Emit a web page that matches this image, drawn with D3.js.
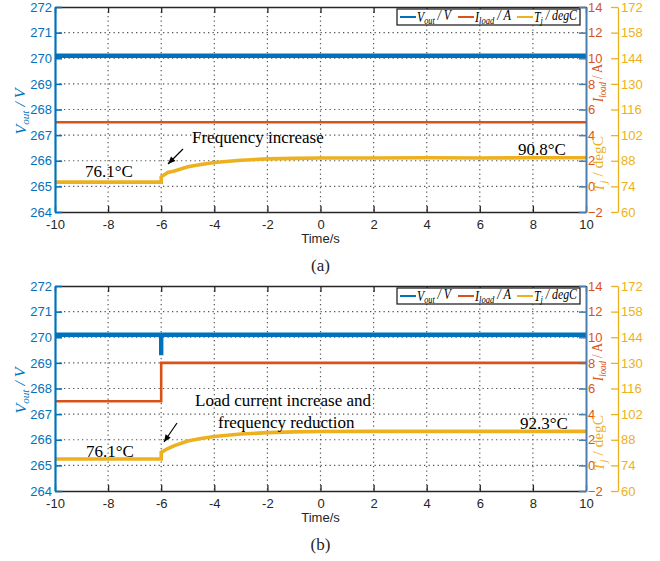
<!DOCTYPE html>
<html>
<head>
<meta charset="utf-8">
<script src="https://cdn.jsdelivr.net/npm/d3@7"></script>
<style>
  body { margin: 0; background: #fff; }
  svg { display: block; }
  .serif { font-family: "Liberation Serif", "Times New Roman", serif; }
  .sans { font-family: "Liberation Sans", Arial, sans-serif; }
</style>
</head>
<body>
<svg id="chart" width="660" height="561"></svg>
<script>
'use strict';

// axis ticks
var timeTicks = [-10, -8, -6, -4, -2, 0, 2, 4, 6, 8, 10];
var voutTicks = [264, 265, 266, 267, 268, 269, 270, 271, 272];
var iloadTicks = [-2, 0, 2, 4, 6, 8, 10, 12, 14];
var tjTicks = [60, 74, 88, 102, 116, 130, 144, 158, 172];

// panel (a)
var voutTimeA = [-10, 10];
var voutA = [270.1, 270.1];
var iloadTimeA = [-10, 10];
var iloadA = [5.0, 5.0];
var tjTimeA = [-10, -6, -6, -5.75, -5.5, -5, -4.5, -4, -3, -2, -1, 0, 2, 4, 6, 8, 10];
var tjA = [76.3, 76.3, 79.2, 81.6, 82.4, 84.7, 86.0, 87.0, 88.3, 89.0, 89.3, 89.5, 89.5, 89.6, 89.5, 89.6, 89.6];

// panel (b)
var voutTimeB = [-10, -6, -6, -6, 10];
var voutB = [270.1, 270.1, 269.3, 270.1, 270.1];
var iloadTimeB = [-10, -6, -6, 10];
var iloadB = [5.0, 5.0, 8.0, 8.0];
var tjTimeB = [-10, -6, -6, -5.75, -5.5, -5, -4.5, -4, -3, -2, -1, 0, 2, 4, 6, 8, 10];
var tjB = [77.5, 77.5, 81.1, 83.2, 84.8, 87.3, 88.7, 89.8, 91.1, 91.9, 92.3, 92.5, 92.6, 92.6, 92.6, 92.6, 92.6];

var BLUE = '#0072BD';
var ORANGE = '#D95319';
var YELLOW = '#EDB120';
var DARK = '#262626';

var svg = d3.select('#chart');
svg.append('rect').attr('width', 660).attr('height', 561).attr('fill', '#fff');

var left = 55, right = 586, axis3 = 618;
var panelH = 205;

function zip(xs, ys) {
    return xs.map(function(x, i) { return [x, ys[i]]; });
}

// italic symbol with subscript, followed by a unit
function labelText(sel, sym, sub, unit, unitItalic) {
    sel.append('tspan').attr('font-style', 'italic').text(sym);
    sel.append('tspan').attr('font-style', 'italic').attr('font-size', '0.7em')
        .attr('dy', '0.3em').text(sub);
    sel.append('tspan').attr('dy', '-0.3em')
        .attr('font-style', unitItalic ? 'italic' : 'normal').text(' / ' + unit);
}

function drawPanel(top, d) {
    var g = svg.append('g');
    var bottom = top + panelH;

    var x = d3.scaleLinear().domain([-10, 10]).range([left, right]);
    var yV = d3.scaleLinear().domain([264, 272]).range([bottom, top]);
    var yI = d3.scaleLinear().domain([-2, 14]).range([bottom, top]);
    var yT = d3.scaleLinear().domain([60, 172]).range([bottom, top]);

    // dotted grid
    var grid = g.append('g').attr('stroke', '#555').attr('stroke-width', 1.2)
        .attr('stroke-dasharray', '1.3,3.2');
    grid.selectAll('line.v').data(timeTicks.slice(1, -1)).enter().append('line')
        .attr('x1', x).attr('x2', x).attr('y1', top).attr('y2', bottom);
    grid.selectAll('line.h').data(voutTicks.slice(1, -1)).enter().append('line')
        .attr('y1', yV).attr('y2', yV).attr('x1', left).attr('x2', right);

    // series
    var line = d3.line()
        .x(function(p) { return x(p[0]); });

    g.append('path').datum(zip(d.tjTime, d.tj))
        .attr('d', line.y(function(p) { return yT(p[1]); }))
        .attr('fill', 'none').attr('stroke', YELLOW).attr('stroke-width', 3.6);
    g.append('path').datum(zip(d.iloadTime, d.iload))
        .attr('d', line.y(function(p) { return yI(p[1]); }))
        .attr('fill', 'none').attr('stroke', ORANGE).attr('stroke-width', 2.6);
    g.append('path').datum(zip(d.voutTime, d.vout))
        .attr('d', line.y(function(p) { return yV(p[1]); }))
        .attr('fill', 'none').attr('stroke', BLUE).attr('stroke-width', 4.4)
        .attr('stroke-linejoin', 'bevel');

    // bottom axis
    var xAxis = g.append('g').attr('transform', 'translate(0,' + bottom + ')')
        .call(d3.axisBottom(x).tickValues(timeTicks).tickSizeInner(-6).tickSizeOuter(0)
            .tickPadding(8).tickFormat(d3.format('d')));
    xAxis.select('.domain').attr('stroke', DARK).attr('stroke-width', 1.6);
    xAxis.selectAll('line').attr('stroke', DARK).attr('stroke-width', 1.3);
    xAxis.selectAll('text').attr('class', 'sans').attr('font-size', 13)
        .attr('fill', DARK).text(function(v) { return v; });

    // top border with ticks
    var topAxis = g.append('g').attr('transform', 'translate(0,' + top + ')')
        .call(d3.axisTop(x).tickValues(timeTicks).tickSizeInner(-6).tickSizeOuter(0)
            .tickFormat(''));
    topAxis.select('.domain').attr('stroke', DARK).attr('stroke-width', 1.6);
    topAxis.selectAll('line').attr('stroke', DARK).attr('stroke-width', 1.3);

    // left axis (Vout)
    var yAxisL = g.append('g').attr('transform', 'translate(' + left + ',0)')
        .call(d3.axisLeft(yV).tickValues(voutTicks).tickSizeInner(-7).tickSizeOuter(0)
            .tickPadding(3));
    yAxisL.select('.domain').attr('stroke', BLUE).attr('stroke-width', 2.2);
    yAxisL.selectAll('line').attr('stroke', BLUE).attr('stroke-width', 1.6);
    yAxisL.selectAll('text').attr('class', 'sans').attr('font-size', 13).attr('fill', BLUE);

    // right axis (Iload)
    var yAxisR = g.append('g').attr('transform', 'translate(' + right + ',0)')
        .call(d3.axisRight(yI).tickValues(iloadTicks).tickSizeInner(-7).tickSizeOuter(0)
            .tickPadding(2));
    yAxisR.select('.domain').attr('stroke', '#4a7db0').attr('stroke-width', 2);
    yAxisR.selectAll('line').attr('stroke', '#4a7db0').attr('stroke-width', 1.6);
    yAxisR.selectAll('text').attr('class', 'sans').attr('font-size', 13).attr('fill', ORANGE);

    // third axis (Tj)
    var yAxisT = g.append('g').attr('transform', 'translate(' + axis3 + ',0)')
        .call(d3.axisRight(yT).tickValues(tjTicks).tickSizeInner(-7).tickSizeOuter(0)
            .tickPadding(3));
    yAxisT.select('.domain').attr('stroke', YELLOW).attr('stroke-width', 1.3);
    yAxisT.selectAll('line').attr('stroke', YELLOW).attr('stroke-width', 1.3);
    yAxisT.selectAll('text').attr('class', 'sans').attr('font-size', 13).attr('fill', YELLOW);

    // axis titles
    var mid = (top + bottom) / 2;
    var vl = g.append('text').attr('class', 'serif').attr('font-size', 15).attr('fill', BLUE)
        .attr('text-anchor', 'middle').attr('textLength', 46).attr('lengthAdjust', 'spacingAndGlyphs')
        .attr('transform', 'translate(26,' + (mid + 2) + ') rotate(-90)');
    labelText(vl, 'V', 'out', 'V', true);

    var il = g.append('text').attr('class', 'serif').attr('font-size', 14).attr('fill', ORANGE)
        .attr('text-anchor', 'middle').attr('textLength', 38).attr('lengthAdjust', 'spacingAndGlyphs')
        .attr('transform', 'translate(603,' + (top + 76) + ') rotate(-90)');
    labelText(il, 'I', 'load', 'A', false);

    var tl = g.append('text').attr('class', 'serif').attr('font-size', 14).attr('fill', YELLOW)
        .attr('text-anchor', 'middle').attr('textLength', 56).attr('lengthAdjust', 'spacingAndGlyphs')
        .attr('transform', 'translate(604,' + (top + 157) + ') rotate(-90)');
    labelText(tl, 'T', 'j', 'degC', false);

    g.append('text').attr('class', 'sans').attr('font-size', 13).attr('fill', DARK)
        .attr('x', (left + right) / 2).attr('y', bottom + 31).attr('text-anchor', 'middle')
        .text('Time/s');

    g.append('text').attr('class', 'serif').attr('font-size', 17).attr('fill', DARK)
        .attr('x', (left + right) / 2).attr('y', bottom + 59).attr('text-anchor', 'middle')
        .text(d.tag);

    // legend
    var lg = g.append('g').attr('transform', 'translate(397,' + (top + 2) + ')');
    lg.append('rect').attr('width', 183).attr('height', 16)
        .attr('fill', '#fff').attr('stroke', DARK).attr('stroke-width', 1.3);
    var items = [
        { c: BLUE, x0: 3, w: 34, sym: 'V', sub: 'out', unit: 'V' },
        { c: ORANGE, x0: 61, w: 36, sym: 'I', sub: 'load', unit: 'A' },
        { c: YELLOW, x0: 120, w: 43, sym: 'T', sub: 'j', unit: 'degC' }
    ];
    items.forEach(function(it) {
        lg.append('line').attr('x1', it.x0).attr('x2', it.x0 + 16).attr('y1', 8).attr('y2', 8)
            .attr('stroke', it.c).attr('stroke-width', 2);
        var t = lg.append('text').attr('class', 'serif').attr('font-size', 14).attr('fill', '#000')
            .attr('x', it.x0 + 17).attr('y', 12.5)
            .attr('textLength', it.w).attr('lengthAdjust', 'spacingAndGlyphs');
        labelText(t, it.sym, it.sub, it.unit, true);
    });

    // annotations
    d.notes.forEach(function(n) {
        g.append('text').attr('class', 'serif').attr('font-size', 17).attr('fill', '#000')
            .attr('x', n.x).attr('y', top + n.y).text(n.text);
    });
    var a = d.arrow;
    g.append('line').attr('x1', a[0]).attr('y1', top + a[1]).attr('x2', a[2]).attr('y2', top + a[3])
        .attr('stroke', '#000').attr('stroke-width', 1.2);
    var ang = Math.atan2(a[3] - a[1], a[2] - a[0]);
    var hx = a[2], hy = top + a[3];
    var p1 = [hx - 8 * Math.cos(ang - 0.4), hy - 8 * Math.sin(ang - 0.4)];
    var p2 = [hx - 8 * Math.cos(ang + 0.4), hy - 8 * Math.sin(ang + 0.4)];
    g.append('path').attr('d', 'M' + hx + ',' + hy + 'L' + p1 + 'L' + p2 + 'Z').attr('fill', '#000');
}

drawPanel(7, {
    tag: '(a)',
    voutTime: voutTimeA, vout: voutA,
    iloadTime: iloadTimeA, iload: iloadA,
    tjTime: tjTimeA, tj: tjA,
    notes: [
        { x: 85, y: 170, text: '76.1\u00B0C' },
        { x: 192, y: 136, text: 'Frequency increase' },
        { x: 518, y: 148, text: '90.8\u00B0C' }
    ],
    arrow: [183, 142, 168, 157]
});

drawPanel(286, {
    tag: '(b)',
    voutTime: voutTimeB, vout: voutB,
    iloadTime: iloadTimeB, iload: iloadB,
    tjTime: tjTimeB, tj: tjB,
    notes: [
        { x: 86, y: 171, text: '76.1\u00B0C' },
        { x: 195, y: 120, text: 'Load current increase and' },
        { x: 218, y: 142, text: 'frequency reduction' },
        { x: 520, y: 143, text: '92.3\u00B0C' }
    ],
    arrow: [177, 137, 164, 156]
});
</script>
</body>
</html>
